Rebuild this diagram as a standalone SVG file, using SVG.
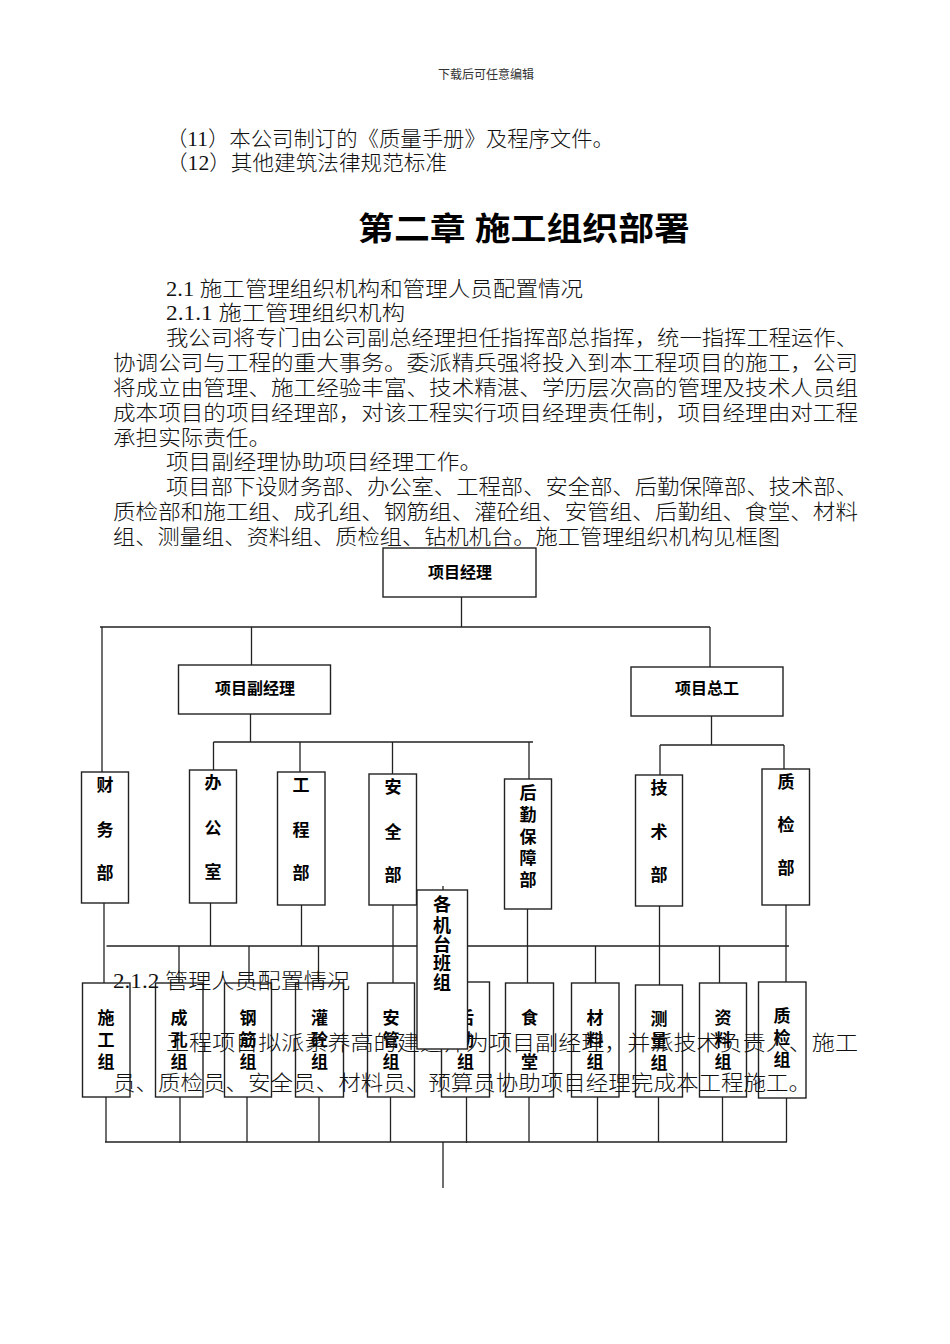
<svg xmlns="http://www.w3.org/2000/svg" width="950" height="1344" viewBox="0 0 950 1344">
<style>
.hdr{font-family:"Noto Sans CJK SC",sans-serif;font-size:12px;fill:#333}
.p{font-family:"Liberation Serif","Noto Sans CJK SC",serif;font-size:21px;fill:#111;font-weight:300}
.ttl{font-family:"Liberation Serif","Noto Sans CJK SC",serif;font-size:32px;font-weight:bold;fill:#000}
.box{fill:#fff;stroke:#222;stroke-width:1.4}
.lbl{font-family:"Noto Sans CJK SC",sans-serif;font-size:16px;font-weight:bold;fill:#000;text-anchor:middle}
.vl{font-family:"Noto Sans CJK SC",sans-serif;font-size:17px;font-weight:bold;fill:#000;text-anchor:middle}
.ln{stroke:#222;stroke-width:1.3;fill:none}
</style>
<rect width="950" height="1344" fill="#fff"/>
<text class="hdr" x="486" y="79" text-anchor="middle">下载后可任意编辑</text>
<text class="p" x="166" y="146" textLength="448" lengthAdjust="spacingAndGlyphs">（11）本公司制订的《质量手册》及程序文件。</text>
<text class="p" x="166" y="170" textLength="281" lengthAdjust="spacingAndGlyphs">（12）其他建筑法律规范标准</text>
<text class="ttl" x="358" y="240" textLength="332" lengthAdjust="spacingAndGlyphs">第二章  施工组织部署</text>
<text class="p" x="166" y="296" textLength="417" lengthAdjust="spacingAndGlyphs">2.1 施工管理组织机构和管理人员配置情况</text>
<text class="p" x="166" y="320" textLength="239" lengthAdjust="spacingAndGlyphs">2.1.1 施工管理组织机构</text>
<text class="p" x="166" y="345" textLength="692" lengthAdjust="spacingAndGlyphs">我公司将专门由公司副总经理担任指挥部总指挥，统一指挥工程运作、</text>
<text class="p" x="113" y="370" textLength="745" lengthAdjust="spacingAndGlyphs">协调公司与工程的重大事务。委派精兵强将投入到本工程项目的施工，公司</text>
<text class="p" x="113" y="395" textLength="745" lengthAdjust="spacingAndGlyphs">将成立由管理、施工经验丰富、技术精湛、学历层次高的管理及技术人员组</text>
<text class="p" x="113" y="420" textLength="745" lengthAdjust="spacingAndGlyphs">成本项目的项目经理部，对该工程实行项目经理责任制，项目经理由对工程</text>
<text class="p" x="113" y="445" textLength="158" lengthAdjust="spacingAndGlyphs">承担实际责任。</text>
<text class="p" x="166" y="469" textLength="316" lengthAdjust="spacingAndGlyphs">项目副经理协助项目经理工作。</text>
<text class="p" x="166" y="494" textLength="692" lengthAdjust="spacingAndGlyphs">项目部下设财务部、办公室、工程部、安全部、后勤保障部、技术部、</text>
<text class="p" x="113" y="519" textLength="745" lengthAdjust="spacingAndGlyphs">质检部和施工组、成孔组、钢筋组、灌砼组、安管组、后勤组、食堂、材料</text>
<text class="p" x="113" y="544" textLength="667" lengthAdjust="spacingAndGlyphs">组、测量组、资料组、质检组、钻机机台。施工管理组织机构见框图</text>

<g id="connectors">
<path class="ln" d="M461.5 597V627M100 627H710M102 627V772M251.5 627V665M710 627V667"/>
<path class="ln" d="M250.5 714V742M213.5 742H533M213.5 742V770M300 742V772M392.5 742V774M529 742V779"/>
<path class="ln" d="M711.5 716V745M660 745H784M660 745V775M784 745V769"/>
<path class="ln" d="M104 903V983M106.5 946H789M210.5 903V946M301.5 905V946M393 905V983M527.5 909V983M659.5 906V985M786 905V982"/>
<path class="ln" d="M179 946V983M249 946V983M318.5 946V983M595.5 946V983M719.5 946V983M443 886V890"/>
<path class="ln" d="M106 1097V1142M180 1097V1143M247 1097V1142M319 1097V1142M390.5 1097V1142M466.5 1097V1143M529 1097V1142M597.5 1097V1142M658.5 1097V1142M722.5 1097V1142M786.5 1098V1142M105 1142H787M443 1142V1188"/>
</g>

<g id="n-pm"><rect class="box" x="383" y="548" width="153" height="49"/><text class="lbl" x="460" y="578">项目经理</text></g>
<g id="n-dpm"><rect class="box" x="178.5" y="665" width="152" height="49"/><text class="lbl" x="255" y="694">项目副经理</text></g>
<g id="n-ce"><rect class="box" x="631" y="667" width="152" height="49"/><text class="lbl" x="707" y="694">项目总工</text></g>

<g id="n-cwb"><rect class="box" x="81.5" y="772" width="47" height="131"/><text class="vl" x="105" y="791">财</text><text class="vl" x="105" y="836">务</text><text class="vl" x="105" y="879">部</text></g>
<g id="n-bgs"><rect class="box" x="189.5" y="770" width="47" height="133"/><text class="vl" x="213" y="789">办</text><text class="vl" x="213" y="834">公</text><text class="vl" x="213" y="878">室</text></g>
<g id="n-gcb"><rect class="box" x="277.5" y="772" width="47.5" height="133"/><text class="vl" x="301" y="791">工</text><text class="vl" x="301" y="836">程</text><text class="vl" x="301" y="879">部</text></g>
<g id="n-aqb"><rect class="box" x="369" y="774" width="47.5" height="131"/><text class="vl" x="393" y="793">安</text><text class="vl" x="393" y="838">全</text><text class="vl" x="393" y="881">部</text></g>
<g id="n-hqbzb"><rect class="box" x="504.5" y="779" width="47" height="130"/><text class="vl" x="528" y="799">后</text><text class="vl" x="528" y="821">勤</text><text class="vl" x="528" y="843">保</text><text class="vl" x="528" y="864">障</text><text class="vl" x="528" y="886">部</text></g>
<g id="n-jsb"><rect class="box" x="635.5" y="775" width="47" height="131"/><text class="vl" x="659" y="794">技</text><text class="vl" x="659" y="838">术</text><text class="vl" x="659" y="881">部</text></g>
<g id="n-zjb"><rect class="box" x="762" y="769" width="47.5" height="136"/><text class="vl" x="786" y="788">质</text><text class="vl" x="786" y="831">检</text><text class="vl" x="786" y="874">部</text></g>

<g id="n-sgz"><rect class="box" x="82.5" y="983" width="47.5" height="114"/><text class="vl" x="106" y="1024">施</text><text class="vl" x="106" y="1046">工</text><text class="vl" x="106" y="1068">组</text></g>
<g id="n-ckz"><rect class="box" x="155.5" y="983" width="47.5" height="114"/><text class="vl" x="179" y="1024">成</text><text class="vl" x="179" y="1046">孔</text><text class="vl" x="179" y="1068">组</text></g>
<g id="n-gjz"><rect class="box" x="224.5" y="983" width="47" height="114"/><text class="vl" x="248" y="1024">钢</text><text class="vl" x="248" y="1046">筋</text><text class="vl" x="248" y="1068">组</text></g>
<g id="n-gtz"><rect class="box" x="295.5" y="983" width="48" height="114"/><text class="vl" x="319.5" y="1024">灌</text><text class="vl" x="319.5" y="1046">砼</text><text class="vl" x="319.5" y="1068">组</text></g>
<g id="n-agz"><rect class="box" x="367.5" y="983" width="47" height="114"/><text class="vl" x="391" y="1024">安</text><text class="vl" x="391" y="1046">管</text><text class="vl" x="391" y="1068">组</text></g>
<g id="n-hqz"><rect class="box" x="441.5" y="982" width="48" height="115"/><text class="vl" x="465.5" y="1024">后</text><text class="vl" x="465.5" y="1046">勤</text><text class="vl" x="465.5" y="1068">组</text></g>
<g id="n-st"><rect class="box" x="505.5" y="983" width="48" height="114"/><text class="vl" x="529.5" y="1024">食</text><text class="vl" x="529.5" y="1068">堂</text></g>
<g id="n-clz"><rect class="box" x="571.5" y="983" width="47.5" height="114"/><text class="vl" x="595" y="1024">材</text><text class="vl" x="595" y="1046">料</text><text class="vl" x="595" y="1068">组</text></g>
<g id="n-clz2"><rect class="box" x="635.5" y="985" width="47" height="112"/><text class="vl" x="659" y="1025">测</text><text class="vl" x="659" y="1047">量</text><text class="vl" x="659" y="1069">组</text></g>
<g id="n-zlz"><rect class="box" x="699.5" y="983" width="47" height="114"/><text class="vl" x="723" y="1024">资</text><text class="vl" x="723" y="1046">料</text><text class="vl" x="723" y="1068">组</text></g>
<g id="n-zjz"><rect class="box" x="758.5" y="982" width="47.5" height="116"/><text class="vl" x="782" y="1022">质</text><text class="vl" x="782" y="1044">检</text><text class="vl" x="782" y="1066">组</text></g>

<text class="p" x="113" y="988" textLength="237" lengthAdjust="spacingAndGlyphs">2.1.2 管理人员配置情况</text>
<text class="p" x="166" y="1050" textLength="692" lengthAdjust="spacingAndGlyphs">工程项目拟派素养高的建造师为项目副经理，并派技术负责人、施工</text>
<text class="p" x="113" y="1090" textLength="698" lengthAdjust="spacingAndGlyphs">员、质检员、安全员、材料员、预算员协助项目经理完成本工程施工。</text>

<g id="n-gjtbz"><rect class="box" x="417" y="890" width="50.5" height="159"/><text class="vl" x="442" y="911" style="font-size:18px">各</text><text class="vl" x="442" y="932" style="font-size:18px">机</text><text class="vl" x="442" y="951" style="font-size:18px">台</text><text class="vl" x="442" y="970" style="font-size:18px">班</text><text class="vl" x="442" y="989" style="font-size:18px">组</text></g>
</svg>
